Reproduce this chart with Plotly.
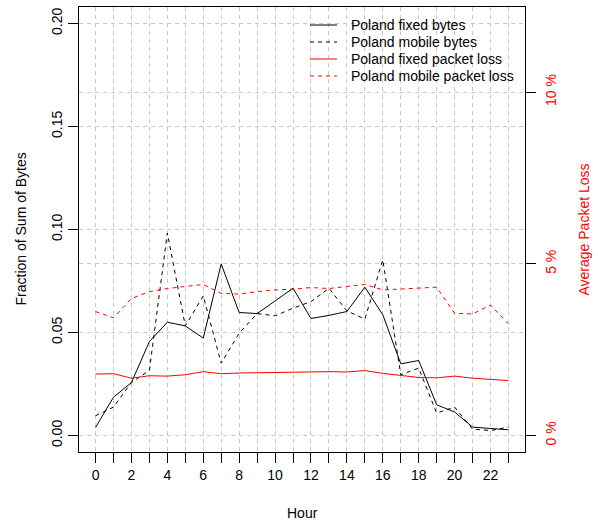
import plotly.graph_objects as go

hours = list(range(24))
fixed_bytes = [0.0039, 0.0186, 0.0257, 0.0456, 0.0550, 0.0532, 0.0473, 0.0833, 0.0597, 0.0592,
               0.0653, 0.0715, 0.0568, 0.0583, 0.0602, 0.0720, 0.0586, 0.0348, 0.0364, 0.0149,
               0.0114, 0.0041, 0.0034, 0.0028]
mobile_bytes = [0.0096, 0.0138, 0.0257, 0.0316, 0.0983, 0.0532, 0.0678, 0.0351, 0.0497, 0.0592,
                0.0581, 0.0618, 0.0650, 0.0715, 0.0605, 0.0565, 0.0853, 0.0295, 0.0327, 0.0109,
                0.0138, 0.0031, 0.0024, 0.0041]
fixed_loss = [1.79, 1.80, 1.67, 1.74, 1.73, 1.77, 1.86, 1.80, 1.82, 1.83,
              1.83, 1.83, 1.84, 1.86, 1.85, 1.89, 1.81, 1.74, 1.69, 1.68,
              1.73, 1.67, 1.64, 1.60]
mobile_loss = [3.61, 3.43, 3.99, 4.19, 4.28, 4.33, 4.40, 4.14, 4.12, 4.19,
               4.24, 4.26, 4.31, 4.28, 4.35, 4.40, 4.24, 4.27, 4.30, 4.32,
               3.56, 3.54, 3.80, 3.25]

series_names = ["Poland fixed bytes", "Poland mobile bytes",
                "Poland fixed packet loss", "Poland mobile packet loss"]
series_colors = ["black", "black", "red", "red"]
series_dash = ["solid", "4px,4px", "solid", "4px,4px"]

x_tick_labels = [str(h) if h % 2 == 0 else "" for h in hours]
left_ticks = [0.0, 0.05, 0.10, 0.15, 0.20]
left_tick_labels = ["0.00", "0.05", "0.10", "0.15", "0.20"]
right_ticks = [0, 5, 10]
right_tick_labels = ["0 %", "5 %", "10 %"]

FONT = "Liberation Sans, Arial, Helvetica, sans-serif"
GRID = "#c8c8c8"

W, H = 598, 527
ML, MR, MT, MB = 79, 73, 7, 75
PW, PH = W - ML - MR, H - MT - MB


def px_x(p):
    return (p - ML) / PW


def px_y(p):
    return 1 - (p - MT) / PH


fig = go.Figure()
values = [fixed_bytes, mobile_bytes, fixed_loss, mobile_loss]
axes = ["y", "y", "y2", "y2"]
for name, vals, col, dash, ax in zip(series_names, values, series_colors, series_dash, axes):
    fig.add_trace(go.Scatter(x=hours, y=vals, mode="lines", name=name, yaxis=ax,
                             showlegend=False, line=dict(color=col, width=1, dash=dash)))

# manual legend (no box, like R's bty="n")
shapes = []
annotations = []
row_y = [25, 42, 59, 76]
for name, col, dash, ry in zip(series_names, series_colors, series_dash, row_y):
    shapes.append(dict(type="line", xref="paper", yref="paper",
                       x0=px_x(310), x1=px_x(337), y0=px_y(ry), y1=px_y(ry),
                       line=dict(color=col, width=1, dash=dash)))
    annotations.append(dict(text=name, xref="paper", yref="paper", x=px_x(349), y=px_y(ry),
                            xanchor="left", yanchor="middle", showarrow=False,
                            font=dict(size=14, color="black")))

annotations += [
    dict(text="Fraction of Sum of Bytes", xref="paper", yref="paper", x=px_x(20), y=0.5,
         textangle=-90, showarrow=False, xanchor="center", yanchor="middle",
         font=dict(size=14, color="black")),
    dict(text="Average Packet Loss", xref="paper", yref="paper", x=px_x(583), y=0.5,
         textangle=-90, showarrow=False, xanchor="center", yanchor="middle",
         font=dict(size=14, color="red")),
    dict(text="Hour", xref="paper", yref="paper", x=px_x(302), y=px_y(513),
         showarrow=False, xanchor="center", yanchor="middle",
         font=dict(size=14, color="black")),
]

fig.update_layout(
    width=W, height=H,
    margin=dict(l=ML, r=MR, t=MT, b=MB),
    paper_bgcolor="white", plot_bgcolor="white",
    font=dict(family=FONT, size=14, color="black"),
    showlegend=False,
    xaxis=dict(range=[-0.92, 23.92], tickmode="array", tickvals=hours, ticktext=x_tick_labels,
               ticks="outside", ticklen=10, tickcolor="black", tickwidth=1,
               showgrid=True, gridcolor=GRID, griddash="4px,4px", gridwidth=1,
               showline=True, linecolor="black", linewidth=1, mirror=True, zeroline=False,
               tickfont=dict(size=14)),
    yaxis=dict(range=[-0.008, 0.208], tickmode="array", tickvals=left_ticks, ticktext=left_tick_labels,
               ticks="outside", ticklen=10, tickcolor="black", tickwidth=1, tickangle=-90,
               showgrid=True, gridcolor=GRID, griddash="4px,4px", gridwidth=1,
               showline=True, linecolor="black", linewidth=1, mirror=True, zeroline=False,
               tickfont=dict(size=14)),
    yaxis2=dict(range=[-0.48, 12.48], overlaying="y", side="right", tickmode="array",
                tickvals=right_ticks, ticktext=right_tick_labels,
                ticks="outside", ticklen=10, tickcolor="black", tickwidth=1, tickangle=-90,
                ticklabelstandoff=3,
                showgrid=True, gridcolor=GRID, griddash="4px,4px", gridwidth=1,
                showline=False, zeroline=False, tickfont=dict(size=14, color="red")),
    shapes=shapes,
    annotations=annotations,
)

fig.write_html("out.html", config={"displayModeBar": False},
               post_script="document.body.style.margin='0px';")
